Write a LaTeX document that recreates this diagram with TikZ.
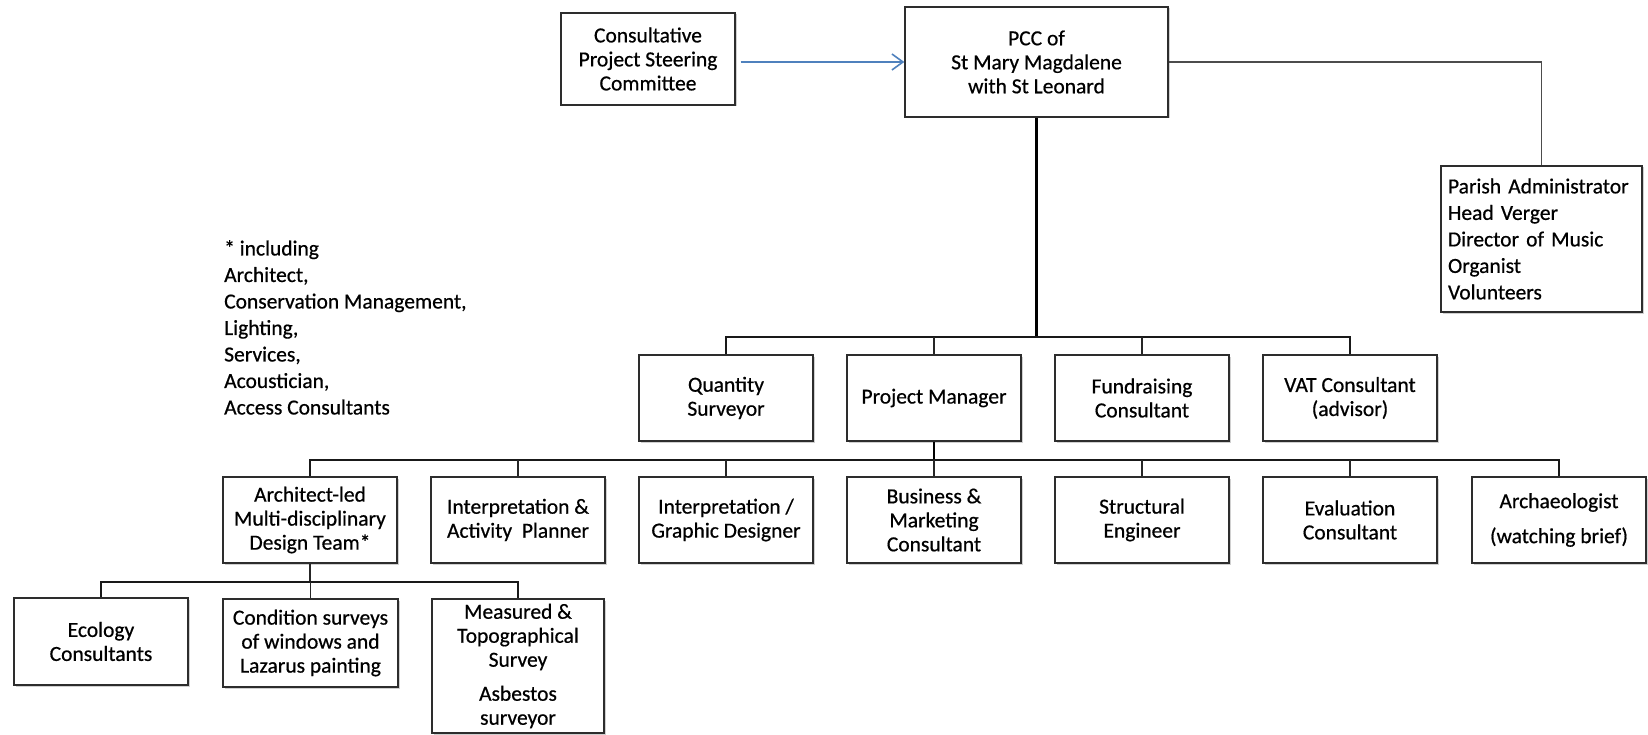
\documentclass[tikz,border=0pt]{standalone}
\usepackage{fontspec}
\setmainfont{Carlito}[FakeBold=0.6]
\usetikzlibrary{arrows.meta,shadows}
\newcommand{\boxfont}{\fontsize{21.5}{24}\selectfont}
\newcommand{\notefont}{\fontsize{21.5}{26.5}\selectfont}
\definecolor{arrowblue}{RGB}{79,129,189}
\definecolor{edge}{RGB}{45,45,45}
\tikzset{
  orgbox/.style={draw=edge, line width=1.4pt, fill=white, align=center, inner sep=0pt,
    font=\boxfont, minimum width=174pt, minimum height=86pt,
    drop shadow={shadow xshift=1.5pt, shadow yshift=-1.5pt, opacity=0.3, fill=black!60}},
  wire/.style={draw=black!85, line width=1.5pt},
  buswire/.style={draw=black!90, line width=2pt},
  trunkwire/.style={draw=black, line width=2.8pt},
  sidewire/.style={draw=black!70, line width=1.5pt},
  bluearrow/.style={draw=arrowblue, line width=1.8pt, -{Straight Barb[length=11pt,width=16pt,line width=1.6pt]}}
}
\begin{document}
\begin{tikzpicture}[x=1pt,y=-1pt]
\useasboundingbox[fill=white] (0,0) rectangle (1648,735);

% top row
\node[orgbox, minimum width=174pt, minimum height=92pt] (cons) at (648,59) {Consultative\\Project Steering\\Committee};
\node[orgbox, minimum width=263pt, minimum height=110pt] (pcc) at (1036.5,62) {PCC of\\St Mary Magdalene\\with St Leonard};
\node[orgbox, minimum width=201pt, minimum height=146pt, text width=187pt, align=left, font=\notefont] (parish) at (1541.5,239)
  {Parish Administrator\\Head Verger\\Director of Music\\Organist\\Volunteers};

% note
\node[anchor=north west, align=left, inner sep=0pt, font=\notefont] (note) at (224,240)
  {* including\\Architect,\\Conservation Management,\\Lighting,\\Services,\\Acoustician,\\Access Consultants};

% second row
\node[orgbox] (qs) at (726,398) {Quantity\\Surveyor};
\node[orgbox] (pm) at (934,398) {Project Manager};
\node[orgbox] (fund) at (1142,398) {Fundraising\\Consultant};
\node[orgbox] (vat) at (1350,398) {VAT Consultant\\(advisor)};

% third row
\node[orgbox] (arch) at (310,520) {Architect-led\\Multi-disciplinary\\Design Team*};
\node[orgbox] (interp) at (518,520) {Interpretation \&\\Activity\ \ Planner};
\node[orgbox] (graph) at (726,520) {Interpretation /\\Graphic Designer};
\node[orgbox] (bus) at (934,520) {Business \&\\Marketing\\Consultant};
\node[orgbox] (struct) at (1142,520) {Structural\\Engineer};
\node[orgbox] (eval) at (1350,520) {Evaluation\\Consultant};
\node[orgbox] (archae) at (1559,520) {Archaeologist\\[11pt](watching brief)};

% fourth row
\node[orgbox, minimum height=87pt] (eco) at (101,641.5) {Ecology\\Consultants};
\node[orgbox, minimum width=175pt, minimum height=88pt] (cond) at (310.5,643) {Condition surveys\\of windows and\\Lazarus painting};
\node[orgbox, minimum width=172pt, minimum height=134pt] (meas) at (518,666) {Measured \&\\Topographical\\Survey\\[10pt]Asbestos\\surveyor};

% bus levels
\coordinate (b1) at (0,337);
\coordinate (b2) at (0,460);
\coordinate (b3) at (0,582);

% connectors
\draw[bluearrow, shorten <=5pt] (cons.east |- pcc.west) -- (pcc.west);
\draw[sidewire] (pcc.east) -| (parish.north);
\draw[trunkwire] (pcc.south) -- (pcc.south |- b1);
\draw[buswire] (qs.north) -- (qs.north |- b1) -- (vat.north |- b1) -- (vat.north);
\draw[wire] (pm.north) -- (pm.north |- b1);
\draw[wire] (fund.north) -- (fund.north |- b1);

\draw[trunkwire] (pm.south) -- (pm.south |- b2);
\draw[buswire] (arch.north) -- (arch.north |- b2) -- (archae.north |- b2) -- (archae.north);
\draw[wire] (interp.north) -- (interp.north |- b2);
\draw[wire] (graph.north) -- (graph.north |- b2);
\draw[wire] (bus.north) -- (bus.north |- b2);
\draw[wire] (struct.north) -- (struct.north |- b2);
\draw[wire] (eval.north) -- (eval.north |- b2);

\draw[wire] (arch.south) -- (arch.south |- b3);
\draw[buswire] (eco.north) -- (eco.north |- b3) -- (meas.north |- b3) -- (meas.north);
\draw[wire] (cond.north) -- (cond.north |- b3);
\end{tikzpicture}
\end{document}
